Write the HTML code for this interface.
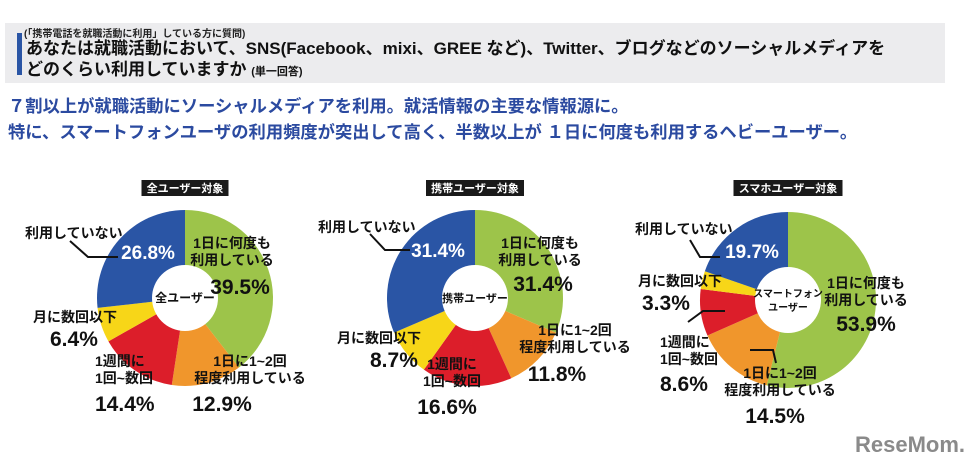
<!DOCTYPE html>
<html><head><meta charset="utf-8">
<style>
body{margin:0;width:978px;height:469px;background:#fff;overflow:hidden;font-family:"Liberation Sans","Noto Sans CJK JP",sans-serif;}
#hdr{position:absolute;left:5px;top:23px;width:940px;height:60px;background:#ececee;}
#bar{position:absolute;left:17px;top:33px;width:5px;height:42px;background:#2a55a5;}
.t{position:absolute;white-space:nowrap;}
</style></head><body>
<div id="hdr"></div>
<div id="bar"></div>
<div class="t" style="left:24px;top:25px;font-size:10px;font-weight:bold;color:#222;">(「携帯電話を就職活動に利用」している方に質問)</div>
<div class="t" style="left:26px;top:38px;font-size:17px;font-weight:bold;color:#111;line-height:21px;">あなたは就職活動において、SNS(Facebook、mixi、GREE など)、Twitter、ブログなどのソーシャルメディアを<br>どのくらい利用していますか <span style="font-size:11px">(単一回答)</span></div>
<div class="t" style="left:8px;top:93px;font-size:17.3px;font-weight:bold;color:#2b4aa0;line-height:26px;">７割以上が就職活動にソーシャルメディアを利用。就活情報の主要な情報源に。<br>特に、スマートフォンユーザの利用頻度が突出して高く、半数以上が １日に何度も利用するヘビーユーザー。</div>
<svg id="chart" width="978" height="469" style="position:absolute;left:0;top:0"></svg>
<div class="t" style="left:855px;top:432px;font-size:22px;font-weight:bold;color:#8a8a8a;">ReseMom.</div>
<script>
const groups=["全ユーザー対象","携帯ユーザー対象","スマホユーザー対象"];
const centerLabels=["全ユーザー","携帯ユーザー","スマートフォン\nユーザー"];
const categories=["1日に何度も利用している","1日に1~2回程度利用している","1週間に1回~数回","月に数回以下","利用していない"];
const seriesAll=[39.5,12.9,14.4,6.4,26.8];
const seriesMobile=[31.4,11.8,16.6,8.7,31.4];
const seriesSmart=[53.9,14.5,8.6,3.3,19.7];
const series=[seriesAll,seriesMobile,seriesSmart];
const colors=["#9dc44a","#f0962c","#dc1e2a","#f7d618","#2a55a5"];
const centers=[[185,298],[475,298],[788,300]];
const R=88,r=33;
const svg=document.getElementById('chart');
const NS="http://www.w3.org/2000/svg";
function angle(v,total){return v/total*2*Math.PI;}
function pt(cx,cy,rad,a){return [cx+rad*Math.sin(a),cy-rad*Math.cos(a)];}
function txt(x,y,s,size,fill,anchor,name,weight){
  const t=document.createElementNS(NS,'text');
  t.setAttribute('x',x);t.setAttribute('y',y);
  t.setAttribute('font-size',size);t.setAttribute('fill',fill);
  t.setAttribute('text-anchor',anchor||'start');t.setAttribute('font-weight',weight||'bold');
  t.setAttribute('font-family','"Liberation Sans","Noto Sans CJK JP",sans-serif');
  t.textContent=s;
  
  
  svg.appendChild(t);return t;
}
series.forEach((vals,gi)=>{
  const [cx,cy]=centers[gi];
  const total=vals.reduce((a,b)=>a+b,0);
  let a0=0;
  vals.forEach((v,i)=>{
    const a1=a0+angle(v,total);
    const [x0,y0]=pt(cx,cy,R,a0),[x1,y1]=pt(cx,cy,R,a1);
    const large=(a1-a0)>Math.PI?1:0;
    const p=document.createElementNS(NS,'path');
    p.setAttribute('d',`M${cx},${cy}L${x0},${y0}A${R},${R} 0 ${large} 1 ${x1},${y1}Z`);
    p.setAttribute('fill',colors[i]);
    
    
    svg.appendChild(p);
    a0=a1;
  });
  const c=document.createElementNS(NS,'circle');
  c.setAttribute('cx',cx);c.setAttribute('cy',cy);c.setAttribute('r',r);c.setAttribute('fill','#fff');
  
  
  svg.appendChild(c);
  const cl=centerLabels[gi].split('\n');
  cl.forEach((s,k)=>txt(cx,cy+4+(k-(cl.length-1)/2)*14,s,cl.length>1?10:(s.length>5?11:12),'#111','middle','center-label','bold'));
  const tw=groups[gi].length*11+10;
  const rect=document.createElementNS(NS,'rect');
  rect.setAttribute('x',cx-tw/2);rect.setAttribute('y',180);rect.setAttribute('width',tw);rect.setAttribute('height',16);rect.setAttribute('fill','#1a1a1a');
  
  
  svg.appendChild(rect);
  txt(cx,192,groups[gi],11,'#fff','middle','chart-title','bold');
});
const L=[
 [232,248,"1日に何度も",14,'#111','middle'],[232,265,"利用している",14,'#111','middle'],[240,294,"39.5%",21,'#111','middle'],
 [25,238,"利用していない",14,'#111','start'],[148,259,"26.8%",19,'#fff','middle'],
 [33,322,"月に数回以下",14,'#111','start'],[50,346,"6.4%",21,'#111','start'],
 [95,366,"1週間に",14,'#111','start'],[95,383,"1回~数回",14,'#111','start'],[95,411,"14.4%",21,'#111','start'],
 [250,366,"1日に1~2回",14,'#111','middle'],[250,383,"程度利用している",14,'#111','middle'],[222,411,"12.9%",21,'#111','middle'],
 [540,248,"1日に何度も",14,'#111','middle'],[540,265,"利用している",14,'#111','middle'],[543,291,"31.4%",21,'#111','middle'],
 [318,232,"利用していない",14,'#111','start'],[438,257,"31.4%",19,'#fff','middle'],
 [337,343,"月に数回以下",14,'#111','start'],[370,367,"8.7%",21,'#111','start'],
 [452,369,"1週間に",14,'#111','middle'],[452,386,"1回~数回",14,'#111','middle'],[447,414,"16.6%",21,'#111','middle'],
 [575,335,"1日に1~2回",14,'#111','middle'],[575,352,"程度利用している",14,'#111','middle'],[557,381,"11.8%",21,'#111','middle'],
 [866,288,"1日に何度も",14,'#111','middle'],[866,305,"利用している",14,'#111','middle'],[866,331,"53.9%",21,'#111','middle'],
 [635,234,"利用していない",14,'#111','start'],[752,258,"19.7%",19,'#fff','middle'],
 [638,286,"月に数回以下",14,'#111','start'],[642,310,"3.3%",21,'#111','start'],
 [660,347,"1週間に",14,'#111','start'],[660,364,"1回~数回",14,'#111','start'],[660,391,"8.6%",21,'#111','start'],
 [780,378,"1日に1~2回",14,'#111','middle'],[780,395,"程度利用している",14,'#111','middle'],[775,423,"14.5%",21,'#111','middle']
];
L.forEach(l=>txt(l[0],l[1],l[2],l[3],l[4],l[5],'slice-label','bold'));
const lines=[[70,241,88,257,118,257],[370,234,385,250,410,250],[690,240,700,257,720,257],[688,322,703,311,725,311],[750,350,773,350,776,363]];
lines.forEach(a=>{const pl=document.createElementNS(NS,'polyline');pl.setAttribute('points',a.join(' '));pl.setAttribute('fill','none');pl.setAttribute('stroke','#111');pl.setAttribute('stroke-width','2');


svg.appendChild(pl);});
</script>
</body></html>
